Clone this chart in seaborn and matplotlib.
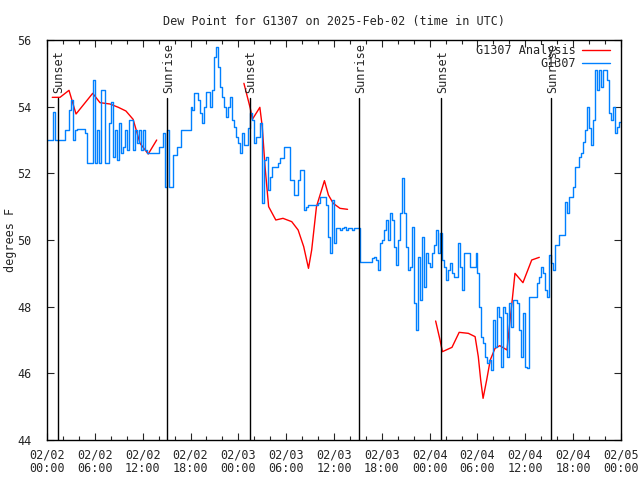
import numpy as np
import pandas as pd
import seaborn as sns
import matplotlib
matplotlib.use("Agg")
import matplotlib.pyplot as plt
from matplotlib.ticker import MultipleLocator

title = "Dew Point for G1307 on 2025-Feb-02 (time in UTC)"
xtick_labels = ["02/02\n00:00", "02/02\n06:00", "02/02\n12:00", "02/02\n18:00",
                "02/03\n00:00", "02/03\n06:00", "02/03\n12:00", "02/03\n18:00",
                "02/04\n00:00", "02/04\n06:00", "02/04\n12:00", "02/04\n18:00",
                "02/05\n00:00"]

# station obs, one value every 15 minutes (hours since 02/02 00:00 UTC)
obs_step = 0.25
obs_vals = [
    53.0, 53.0, 53.0, 53.85,   53.0, 53.0, 53.0, 53.0,
    53.0, 53.3, 53.3, 53.9,    54.2, 53.0, 53.3, 53.32,
    53.32, 53.32, 53.32, 53.2, 52.32, 52.32, 52.32, 54.8,
    52.3, 53.3, 52.3, 54.5,    54.5, 52.3, 52.3, 53.5,
    54.15, 52.5, 53.3, 52.4,   53.5, 52.6, 52.8, 53.3,
    52.7, 53.6, 53.6, 52.7,    53.3, 52.9, 53.3, 52.7,
    53.3, 52.7, 52.6, 52.6,    52.6, 52.6, 52.6, 52.6,
    52.8, 52.8, 53.2, 51.6,    53.3, 51.6, 51.6, 52.55,
    52.55, 52.8, 52.8, 53.3,   53.3, 53.3, 53.3, 53.3,
    54.0, 53.9, 54.4, 54.4,    54.2, 53.8, 53.5, 54.0,
    54.45, 54.45, 54.0, 54.5,  55.5, 55.8, 55.2, 54.6,
    54.3, 54.0, 53.7, 54.0,    54.3, 53.6, 53.4, 53.1,
    52.9, 52.6, 53.2, 52.85,   52.85, 53.35, 53.8, 53.6,
    52.9, 53.1, 53.1, 53.5,    51.1, 52.4, 52.5, 51.5,
    51.9, 52.2, 52.2, 52.2,    52.3, 52.45, 52.45, 52.8,
    52.8, 52.8, 51.8, 51.8,    51.35, 51.35, 51.8, 52.1,
    52.1, 50.9, 51.0, 51.05,   51.05, 51.05, 51.05, 51.05,
    51.1, 51.3, 51.3, 51.3,    51.05, 50.1, 49.6, 51.2,
    49.9, 50.35, 50.35, 50.3,  50.35, 50.4, 50.3, 50.35,
    50.35, 50.3, 50.35, 50.35, 50.35, 49.33, 49.33, 49.33,
    49.33, 49.33, 49.33, 49.45, 49.5, 49.4, 49.1, 49.9,
    50.0, 50.3, 50.6, 50.0,    50.8, 50.6, 49.8, 49.25,
    50.0, 50.8, 51.85, 50.8,   49.8, 49.1, 49.2, 50.4,
    48.1, 47.3, 49.5, 48.2,    50.1, 48.6, 49.6, 49.3,
    49.2, 49.6, 49.85, 50.3,   49.6, 50.2, 49.4, 49.2,
    48.8, 49.1, 49.3, 49.0,    48.9, 48.9, 49.9, 49.2,
    48.5, 49.6, 49.6, 49.6,    49.2, 49.2, 49.2, 49.6,
    49.0, 48.0, 47.1, 46.9,    46.5, 46.3, 46.4, 46.1,
    47.6, 46.8, 48.0, 47.7,    46.2, 48.0, 47.8, 46.5,
    48.1, 47.4, 48.2, 48.2,    48.1, 47.3, 46.5, 47.8,
    46.2, 46.15, 48.3, 48.3,   48.3, 48.3, 48.7, 48.9,
    49.2, 49.0, 48.5, 48.3,    49.55, 49.3, 49.1, 49.85,
    49.85, 50.15, 50.15, 50.15, 51.15, 50.8, 51.3, 51.3,
    51.6, 52.2, 52.2, 52.5,    52.6, 52.95, 53.3, 54.0,
    53.35, 52.85, 53.6, 55.1,  54.5, 55.1, 54.6, 55.1,
    55.1, 54.8, 53.8, 53.6,    54.0, 53.2, 53.4, 53.55,
    53.55,
]

# analysis, three separate runs
ana_seg1_hours = [0.66, 1.63, 2.76, 3.64, 5.73, 6.65, 7.9, 8.95, 9.9, 10.8, 11.25, 11.67, 12.7, 13.76]
ana_seg1_vals = [54.28, 54.28, 54.49, 53.78, 54.40, 54.12, 54.08, 53.98, 53.87, 53.62, 53.25, 52.9, 52.58, 53.0]
ana_seg2_hours = [24.7, 25.5, 25.76, 26.7, 27.0, 27.35, 27.8, 28.7, 29.6, 30.7, 31.5, 32.2, 32.8, 33.2,
                  33.8, 34.8, 35.3, 35.9, 36.75, 37.7]
ana_seg2_vals = [54.7, 53.95, 53.62, 53.98, 53.4, 52.2, 51.0, 50.6, 50.65, 50.55, 50.3, 49.8, 49.15, 49.7,
                 51.0, 51.78, 51.35, 51.1, 50.95, 50.92]
ana_seg3_hours = [48.75, 49.3, 49.6, 50.8, 51.7, 52.85, 53.7, 54.1, 54.4, 54.7, 55.15, 55.6, 56.2, 56.8,
                  57.7, 58.0, 58.4, 58.7, 59.7, 60.8, 61.75]
ana_seg3_vals = [47.57, 47.0, 46.65, 46.78, 47.23, 47.2, 47.1, 46.5, 45.8, 45.25, 45.8, 46.4, 46.75, 46.83,
                 46.7, 47.4, 48.3, 49.0, 48.72, 49.4, 49.48]

sun_hours = [1.38, 15.06, 25.47, 39.15, 49.43, 63.24]
sun_names = ["Sunset", "Sunrise", "Sunset", "Sunrise", "Sunset", "Sunrise"]

sns.set_style("ticks")
plt.rcParams["font.family"] = ["DejaVu Sans Mono"]

obs = pd.DataFrame({"hour": np.arange(len(obs_vals)) * obs_step, "dewpt": obs_vals})

fig = plt.figure(figsize=(6.4, 4.8), dpi=100)
ax = fig.add_axes([47 / 640, 40 / 480, 574 / 640, 400 / 480])

segs = [(ana_seg1_hours, ana_seg1_vals), (ana_seg2_hours, ana_seg2_vals), (ana_seg3_hours, ana_seg3_vals)]
for i, (h, v) in enumerate(segs):
    sns.lineplot(x=h, y=v, ax=ax, color="#ff0000", lw=1.0, estimator=None, sort=False,
                 label="G1307 Analysis" if i == 0 else None)
sns.lineplot(data=obs, x="hour", y="dewpt", ax=ax, color="#0080ff", lw=1.0,
             estimator=None, drawstyle="steps-post", label="G1307")

for h, name in zip(sun_hours, sun_names):
    ax.plot([h, h], [44, 54.26], color="black", lw=1.0)
    ax.text(h + 0.15, 54.4, name, rotation=90, ha="center", va="bottom", fontsize=8.5)

ax.set_xlim(0, 72)
ax.set_ylim(44, 56)
ax.set_xticks(np.arange(0, 73, 6))
ax.set_xticklabels(xtick_labels, linespacing=1.1)
ax.xaxis.set_minor_locator(MultipleLocator(2))
ax.set_yticks(np.arange(44, 57, 2))
ax.tick_params(direction="in", top=True, right=True, length=5, width=0.8, labelsize=8.5)
ax.tick_params(axis="x", pad=6)
ax.tick_params(axis="y", pad=11)
ax.tick_params(which="minor", direction="in", top=True, length=3, width=0.8)
for s in ax.spines.values():
    s.set_linewidth(1.0)
    s.set_color("black")

ax.set_xlabel("")
ax.set_ylabel("degrees F", fontsize=8.5, labelpad=0)
ax.set_title(title, fontsize=8.5, pad=11)

leg = ax.legend(loc="upper right", bbox_to_anchor=(0.993, 1.008), frameon=False, markerfirst=False,
                fontsize=8.5, handlelength=2.4, labelspacing=0.0, borderaxespad=0.2, handletextpad=0.5)

fig.savefig("out.png", dpi=100)
